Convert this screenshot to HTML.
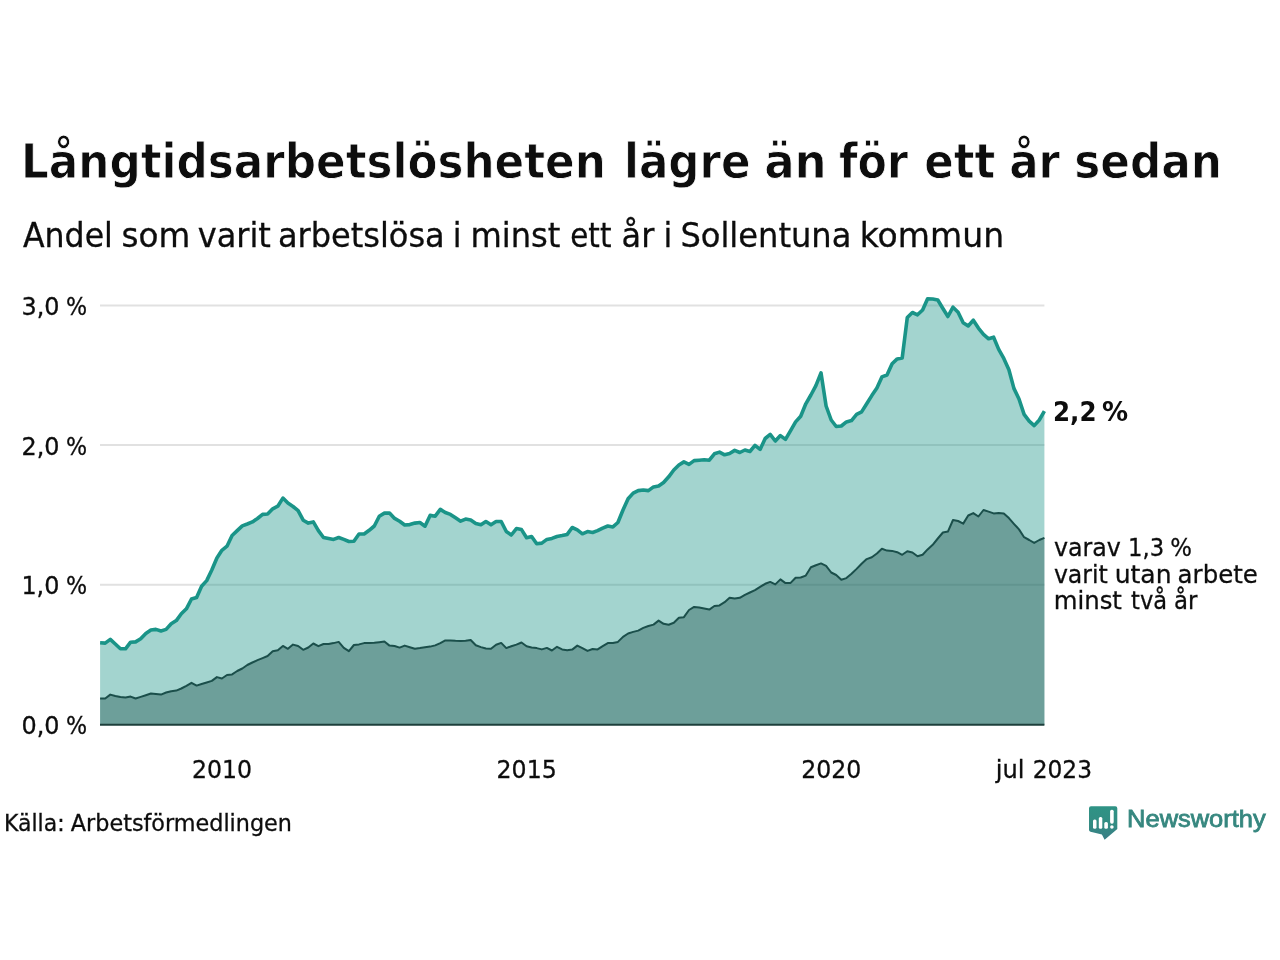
<!DOCTYPE html>
<html lang="sv">
<head>
<meta charset="utf-8">
<title>Långtidsarbetslösheten lägre än för ett år sedan</title>
<style>
html,body{margin:0;padding:0;background:#fff;}
body{width:1280px;height:960px;overflow:hidden;}
svg{display:block;}
text{font-family:"DejaVu Sans Condensed","DejaVu Sans","Liberation Sans",sans-serif;fill:#0d0d0d;stroke:#0d0d0d;stroke-width:0.28px;}
.t{font-weight:bold;font-size:48.5px;stroke:#fff;stroke-width:0.8px;paint-order:fill stroke;}
.s{font-size:33.5px;}
.ax{font-size:25.5px;}
.an{font-family:"DejaVu Sans","Liberation Sans",sans-serif;font-size:24px;}
.anb{font-size:27px;font-weight:bold;stroke-width:0;}
.src{font-size:23px;}
.logo{font-family:"Liberation Sans","DejaVu Sans",sans-serif;font-size:24px;fill:#36877f;stroke:#36877f;stroke-width:0.8px;}
</style>
</head>
<body>
<svg width="1280" height="960" viewBox="0 0 1280 960">
<defs>
<linearGradient id="lg" x1="0" y1="0" x2="0" y2="1"><stop offset="0" stop-color="#2f9385"/><stop offset="0.55" stop-color="#338c83"/><stop offset="1" stop-color="#3a7d86"/></linearGradient>
</defs>
<rect width="1280" height="960" fill="#ffffff"/>
<text class="t" y="177.8"><tspan x="21.0" textLength="584.8" lengthAdjust="spacingAndGlyphs">Långtidsarbetslösheten</tspan> <tspan x="624.0" textLength="126.5" lengthAdjust="spacingAndGlyphs">lägre</tspan> <tspan x="764.2" textLength="62.4" lengthAdjust="spacingAndGlyphs">än</tspan> <tspan x="839.0" textLength="69.0" lengthAdjust="spacingAndGlyphs">för</tspan> <tspan x="924.3" textLength="71.1" lengthAdjust="spacingAndGlyphs">ett</tspan> <tspan x="1009.3" textLength="50.7" lengthAdjust="spacingAndGlyphs">år</tspan> <tspan x="1074.2" textLength="147.8" lengthAdjust="spacingAndGlyphs">sedan</tspan></text>
<text class="s" y="247.2"><tspan x="23.0" textLength="89.9" lengthAdjust="spacingAndGlyphs">Andel</tspan> <tspan x="121.4" textLength="68.8" lengthAdjust="spacingAndGlyphs">som</tspan> <tspan x="197.7" textLength="73.2" lengthAdjust="spacingAndGlyphs">varit</tspan> <tspan x="277.9" textLength="166.8" lengthAdjust="spacingAndGlyphs">arbetslösa</tspan> <tspan x="452.8" textLength="8.8" lengthAdjust="spacingAndGlyphs">i</tspan> <tspan x="470.4" textLength="90.0" lengthAdjust="spacingAndGlyphs">minst</tspan> <tspan x="570.3" textLength="41.1" lengthAdjust="spacingAndGlyphs">ett</tspan> <tspan x="621.6" textLength="32.7" lengthAdjust="spacingAndGlyphs">år</tspan> <tspan x="663.6" textLength="8.8" lengthAdjust="spacingAndGlyphs">i</tspan> <tspan x="680.4" textLength="171.0" lengthAdjust="spacingAndGlyphs">Sollentuna</tspan> <tspan x="859.8" textLength="144.3" lengthAdjust="spacingAndGlyphs">kommun</tspan></text>
<g stroke="#e1e1e1" stroke-width="2">
<line x1="100" x2="1044.4" y1="305.4" y2="305.4"/>
<line x1="100" x2="1044.4" y1="445.1" y2="445.1"/>
<line x1="100" x2="1044.4" y1="584.8" y2="584.8"/>
</g>
<path d="M100.1,642.8 L105.2,643.1 L110.3,639.4 L115.3,644.0 L120.4,648.8 L125.5,648.8 L130.6,642.2 L135.6,641.9 L140.7,638.8 L145.8,633.5 L150.9,630.0 L155.9,629.4 L161.0,631.0 L166.1,629.4 L171.2,623.8 L176.3,620.6 L181.3,613.8 L186.4,608.8 L191.5,599.0 L196.6,597.5 L201.6,586.2 L206.7,580.6 L211.8,570.0 L216.9,558.0 L221.9,550.3 L227.0,546.2 L232.1,535.5 L237.2,530.6 L242.3,525.9 L247.3,524.0 L252.4,521.9 L257.5,518.5 L262.6,514.4 L267.6,514.0 L272.7,508.8 L277.8,506.2 L282.9,498.1 L287.9,503.1 L293.0,506.5 L298.1,510.6 L303.2,520.2 L308.3,523.1 L313.3,521.9 L318.4,530.6 L323.5,537.5 L328.6,538.5 L333.6,539.4 L338.7,537.5 L343.8,539.4 L348.9,541.5 L353.9,541.2 L359.0,534.0 L364.1,534.0 L369.2,530.3 L374.3,526.0 L379.3,516.2 L384.4,513.1 L389.5,513.1 L394.6,518.4 L399.6,521.2 L404.7,525.0 L409.8,524.6 L414.9,523.1 L419.9,522.5 L425.0,526.2 L430.1,515.4 L435.2,516.2 L440.3,509.4 L445.3,512.5 L450.4,514.4 L455.5,517.8 L460.6,521.2 L465.6,519.1 L470.7,520.0 L475.8,523.5 L480.9,524.8 L485.9,521.5 L491.0,524.8 L496.1,521.5 L501.2,521.5 L506.3,531.5 L511.3,535.0 L516.4,528.6 L521.5,529.6 L526.6,537.8 L531.6,536.5 L536.7,543.8 L541.8,543.1 L546.9,539.4 L551.9,538.4 L557.0,536.5 L562.1,535.6 L567.2,534.4 L572.2,527.5 L577.3,529.8 L582.4,533.8 L587.5,531.6 L592.6,532.5 L597.6,530.6 L602.7,528.1 L607.8,526.0 L612.9,526.9 L617.9,522.5 L623.0,510.0 L628.1,498.8 L633.2,493.1 L638.2,490.6 L643.3,490.0 L648.4,490.6 L653.5,486.9 L658.6,486.0 L663.6,482.5 L668.7,476.8 L673.8,470.0 L678.9,465.0 L683.9,461.9 L689.0,464.4 L694.1,460.6 L699.2,460.2 L704.2,459.8 L709.3,460.2 L714.4,453.8 L719.5,452.1 L724.6,454.8 L729.6,453.5 L734.7,450.4 L739.8,452.5 L744.9,450.0 L749.9,451.5 L755.0,445.4 L760.1,449.4 L765.2,438.5 L770.2,434.4 L775.3,441.0 L780.4,435.6 L785.5,439.4 L790.6,430.6 L795.6,421.9 L800.7,416.2 L805.8,403.8 L810.9,395.0 L815.9,385.6 L821.0,372.8 L826.1,406.0 L831.2,420.0 L836.2,426.5 L841.3,426.0 L846.4,421.9 L851.5,420.6 L856.6,414.4 L861.6,411.9 L866.7,403.8 L871.8,395.6 L876.9,388.1 L881.9,376.9 L887.0,375.0 L892.1,363.7 L897.2,358.9 L902.2,358.0 L907.3,317.5 L912.4,312.5 L917.5,314.8 L922.6,310.0 L927.6,298.8 L932.7,299.0 L937.8,300.0 L942.9,308.5 L947.9,316.5 L953.0,307.2 L958.1,312.2 L963.2,322.8 L968.2,326.0 L973.3,320.2 L978.4,328.1 L983.5,334.4 L988.6,338.8 L993.6,337.2 L998.7,349.4 L1003.8,358.4 L1008.9,369.7 L1013.9,388.4 L1019.0,399.0 L1024.1,414.4 L1029.2,421.2 L1034.2,425.6 L1039.3,420.0 L1044.4,411.2 L1044.4,724.7 L100.1,724.7 Z" fill="#1a9488" fill-opacity="0.4"/>
<path d="M100.1,698.5 L105.2,698.5 L110.3,694.6 L115.3,696.0 L120.4,697.1 L125.5,697.5 L130.6,696.6 L135.6,698.5 L140.7,696.9 L145.8,695.2 L150.9,693.5 L155.9,694.1 L161.0,694.6 L166.1,692.5 L171.2,691.2 L176.3,690.6 L181.3,688.5 L186.4,685.9 L191.5,682.8 L196.6,685.6 L201.6,684.0 L206.7,682.5 L211.8,680.9 L216.9,677.1 L221.9,678.5 L227.0,675.0 L232.1,674.4 L237.2,671.0 L242.3,668.5 L247.3,665.0 L252.4,662.5 L257.5,660.2 L262.6,658.1 L267.6,656.0 L272.7,651.2 L277.8,650.2 L282.9,645.9 L287.9,648.8 L293.0,644.6 L298.1,646.0 L303.2,649.8 L308.3,647.5 L313.3,643.5 L318.4,646.2 L323.5,644.0 L328.6,644.1 L333.6,643.1 L338.7,641.9 L343.8,647.8 L348.9,651.2 L353.9,645.0 L359.0,644.4 L364.1,643.1 L369.2,642.9 L374.3,642.8 L379.3,642.2 L384.4,641.5 L389.5,645.6 L394.6,646.0 L399.6,647.6 L404.7,645.6 L409.8,647.2 L414.9,648.8 L419.9,648.1 L425.0,647.2 L430.1,646.6 L435.2,645.4 L440.3,643.1 L445.3,640.4 L450.4,640.4 L455.5,640.8 L460.6,640.9 L465.6,640.8 L470.7,640.0 L475.8,645.2 L480.9,647.1 L485.9,648.5 L491.0,648.8 L496.1,644.8 L501.2,642.9 L506.3,648.1 L511.3,646.2 L516.4,644.6 L521.5,642.5 L526.6,646.2 L531.6,647.5 L536.7,648.1 L541.8,649.4 L546.9,647.9 L551.9,650.5 L557.0,646.8 L562.1,649.4 L567.2,650.2 L572.2,649.6 L577.3,645.6 L582.4,648.1 L587.5,650.9 L592.6,649.0 L597.6,649.4 L602.7,646.2 L607.8,643.1 L612.9,642.9 L617.9,641.9 L623.0,636.9 L628.1,633.5 L633.2,631.9 L638.2,630.6 L643.3,627.9 L648.4,626.0 L653.5,624.6 L658.6,620.6 L663.6,623.8 L668.7,624.8 L673.8,622.8 L678.9,617.8 L683.9,617.2 L689.0,610.0 L694.1,606.9 L699.2,607.6 L704.2,608.6 L709.3,609.6 L714.4,606.0 L719.5,605.4 L724.6,602.2 L729.6,597.8 L734.7,598.5 L739.8,597.8 L744.9,594.8 L749.9,592.5 L755.0,590.2 L760.1,586.9 L765.2,583.8 L770.2,581.9 L775.3,584.4 L780.4,579.4 L785.5,583.1 L790.6,582.9 L795.6,577.8 L800.7,577.5 L805.8,575.6 L810.9,567.2 L815.9,565.2 L821.0,563.4 L826.1,565.9 L831.2,572.5 L836.2,575.0 L841.3,579.8 L846.4,578.1 L851.5,573.8 L856.6,568.9 L861.6,563.8 L866.7,559.1 L871.8,557.2 L876.9,553.5 L881.9,548.8 L887.0,550.6 L892.1,550.9 L897.2,552.2 L902.2,554.8 L907.3,551.2 L912.4,552.5 L917.5,556.2 L922.6,554.8 L927.6,549.4 L932.7,544.8 L937.8,538.5 L942.9,532.5 L947.9,531.6 L953.0,520.0 L958.1,521.0 L963.2,523.6 L968.2,515.5 L973.3,513.1 L978.4,516.5 L983.5,510.0 L988.6,511.6 L993.6,513.4 L998.7,512.9 L1003.8,513.4 L1008.9,518.1 L1013.9,523.8 L1019.0,529.4 L1024.1,537.2 L1029.2,540.0 L1034.2,542.9 L1039.3,540.0 L1044.4,537.8 L1044.4,724.7 L100.1,724.7 Z" fill="#1b4f4b" fill-opacity="0.4"/>
<path d="M100.1,698.5 L105.2,698.5 L110.3,694.6 L115.3,696.0 L120.4,697.1 L125.5,697.5 L130.6,696.6 L135.6,698.5 L140.7,696.9 L145.8,695.2 L150.9,693.5 L155.9,694.1 L161.0,694.6 L166.1,692.5 L171.2,691.2 L176.3,690.6 L181.3,688.5 L186.4,685.9 L191.5,682.8 L196.6,685.6 L201.6,684.0 L206.7,682.5 L211.8,680.9 L216.9,677.1 L221.9,678.5 L227.0,675.0 L232.1,674.4 L237.2,671.0 L242.3,668.5 L247.3,665.0 L252.4,662.5 L257.5,660.2 L262.6,658.1 L267.6,656.0 L272.7,651.2 L277.8,650.2 L282.9,645.9 L287.9,648.8 L293.0,644.6 L298.1,646.0 L303.2,649.8 L308.3,647.5 L313.3,643.5 L318.4,646.2 L323.5,644.0 L328.6,644.1 L333.6,643.1 L338.7,641.9 L343.8,647.8 L348.9,651.2 L353.9,645.0 L359.0,644.4 L364.1,643.1 L369.2,642.9 L374.3,642.8 L379.3,642.2 L384.4,641.5 L389.5,645.6 L394.6,646.0 L399.6,647.6 L404.7,645.6 L409.8,647.2 L414.9,648.8 L419.9,648.1 L425.0,647.2 L430.1,646.6 L435.2,645.4 L440.3,643.1 L445.3,640.4 L450.4,640.4 L455.5,640.8 L460.6,640.9 L465.6,640.8 L470.7,640.0 L475.8,645.2 L480.9,647.1 L485.9,648.5 L491.0,648.8 L496.1,644.8 L501.2,642.9 L506.3,648.1 L511.3,646.2 L516.4,644.6 L521.5,642.5 L526.6,646.2 L531.6,647.5 L536.7,648.1 L541.8,649.4 L546.9,647.9 L551.9,650.5 L557.0,646.8 L562.1,649.4 L567.2,650.2 L572.2,649.6 L577.3,645.6 L582.4,648.1 L587.5,650.9 L592.6,649.0 L597.6,649.4 L602.7,646.2 L607.8,643.1 L612.9,642.9 L617.9,641.9 L623.0,636.9 L628.1,633.5 L633.2,631.9 L638.2,630.6 L643.3,627.9 L648.4,626.0 L653.5,624.6 L658.6,620.6 L663.6,623.8 L668.7,624.8 L673.8,622.8 L678.9,617.8 L683.9,617.2 L689.0,610.0 L694.1,606.9 L699.2,607.6 L704.2,608.6 L709.3,609.6 L714.4,606.0 L719.5,605.4 L724.6,602.2 L729.6,597.8 L734.7,598.5 L739.8,597.8 L744.9,594.8 L749.9,592.5 L755.0,590.2 L760.1,586.9 L765.2,583.8 L770.2,581.9 L775.3,584.4 L780.4,579.4 L785.5,583.1 L790.6,582.9 L795.6,577.8 L800.7,577.5 L805.8,575.6 L810.9,567.2 L815.9,565.2 L821.0,563.4 L826.1,565.9 L831.2,572.5 L836.2,575.0 L841.3,579.8 L846.4,578.1 L851.5,573.8 L856.6,568.9 L861.6,563.8 L866.7,559.1 L871.8,557.2 L876.9,553.5 L881.9,548.8 L887.0,550.6 L892.1,550.9 L897.2,552.2 L902.2,554.8 L907.3,551.2 L912.4,552.5 L917.5,556.2 L922.6,554.8 L927.6,549.4 L932.7,544.8 L937.8,538.5 L942.9,532.5 L947.9,531.6 L953.0,520.0 L958.1,521.0 L963.2,523.6 L968.2,515.5 L973.3,513.1 L978.4,516.5 L983.5,510.0 L988.6,511.6 L993.6,513.4 L998.7,512.9 L1003.8,513.4 L1008.9,518.1 L1013.9,523.8 L1019.0,529.4 L1024.1,537.2 L1029.2,540.0 L1034.2,542.9 L1039.3,540.0 L1044.4,537.8" fill="none" stroke="#1b4f4b" stroke-width="2" stroke-linejoin="round" stroke-linecap="butt"/>
<path d="M100.1,642.8 L105.2,643.1 L110.3,639.4 L115.3,644.0 L120.4,648.8 L125.5,648.8 L130.6,642.2 L135.6,641.9 L140.7,638.8 L145.8,633.5 L150.9,630.0 L155.9,629.4 L161.0,631.0 L166.1,629.4 L171.2,623.8 L176.3,620.6 L181.3,613.8 L186.4,608.8 L191.5,599.0 L196.6,597.5 L201.6,586.2 L206.7,580.6 L211.8,570.0 L216.9,558.0 L221.9,550.3 L227.0,546.2 L232.1,535.5 L237.2,530.6 L242.3,525.9 L247.3,524.0 L252.4,521.9 L257.5,518.5 L262.6,514.4 L267.6,514.0 L272.7,508.8 L277.8,506.2 L282.9,498.1 L287.9,503.1 L293.0,506.5 L298.1,510.6 L303.2,520.2 L308.3,523.1 L313.3,521.9 L318.4,530.6 L323.5,537.5 L328.6,538.5 L333.6,539.4 L338.7,537.5 L343.8,539.4 L348.9,541.5 L353.9,541.2 L359.0,534.0 L364.1,534.0 L369.2,530.3 L374.3,526.0 L379.3,516.2 L384.4,513.1 L389.5,513.1 L394.6,518.4 L399.6,521.2 L404.7,525.0 L409.8,524.6 L414.9,523.1 L419.9,522.5 L425.0,526.2 L430.1,515.4 L435.2,516.2 L440.3,509.4 L445.3,512.5 L450.4,514.4 L455.5,517.8 L460.6,521.2 L465.6,519.1 L470.7,520.0 L475.8,523.5 L480.9,524.8 L485.9,521.5 L491.0,524.8 L496.1,521.5 L501.2,521.5 L506.3,531.5 L511.3,535.0 L516.4,528.6 L521.5,529.6 L526.6,537.8 L531.6,536.5 L536.7,543.8 L541.8,543.1 L546.9,539.4 L551.9,538.4 L557.0,536.5 L562.1,535.6 L567.2,534.4 L572.2,527.5 L577.3,529.8 L582.4,533.8 L587.5,531.6 L592.6,532.5 L597.6,530.6 L602.7,528.1 L607.8,526.0 L612.9,526.9 L617.9,522.5 L623.0,510.0 L628.1,498.8 L633.2,493.1 L638.2,490.6 L643.3,490.0 L648.4,490.6 L653.5,486.9 L658.6,486.0 L663.6,482.5 L668.7,476.8 L673.8,470.0 L678.9,465.0 L683.9,461.9 L689.0,464.4 L694.1,460.6 L699.2,460.2 L704.2,459.8 L709.3,460.2 L714.4,453.8 L719.5,452.1 L724.6,454.8 L729.6,453.5 L734.7,450.4 L739.8,452.5 L744.9,450.0 L749.9,451.5 L755.0,445.4 L760.1,449.4 L765.2,438.5 L770.2,434.4 L775.3,441.0 L780.4,435.6 L785.5,439.4 L790.6,430.6 L795.6,421.9 L800.7,416.2 L805.8,403.8 L810.9,395.0 L815.9,385.6 L821.0,372.8 L826.1,406.0 L831.2,420.0 L836.2,426.5 L841.3,426.0 L846.4,421.9 L851.5,420.6 L856.6,414.4 L861.6,411.9 L866.7,403.8 L871.8,395.6 L876.9,388.1 L881.9,376.9 L887.0,375.0 L892.1,363.7 L897.2,358.9 L902.2,358.0 L907.3,317.5 L912.4,312.5 L917.5,314.8 L922.6,310.0 L927.6,298.8 L932.7,299.0 L937.8,300.0 L942.9,308.5 L947.9,316.5 L953.0,307.2 L958.1,312.2 L963.2,322.8 L968.2,326.0 L973.3,320.2 L978.4,328.1 L983.5,334.4 L988.6,338.8 L993.6,337.2 L998.7,349.4 L1003.8,358.4 L1008.9,369.7 L1013.9,388.4 L1019.0,399.0 L1024.1,414.4 L1029.2,421.2 L1034.2,425.6 L1039.3,420.0 L1044.4,411.2" fill="none" stroke="#1a9488" stroke-width="3.6" stroke-linejoin="round" stroke-linecap="butt"/>
<line x1="100" x2="1044.4" y1="724.7" y2="724.7" stroke="#1d3f3b" stroke-width="2"/>
<text class="ax" y="315.0"><tspan x="21.5" textLength="38.0" lengthAdjust="spacingAndGlyphs">3,0</tspan> <tspan x="65.9" textLength="21.1" lengthAdjust="spacingAndGlyphs">%</tspan></text>
<text class="ax" y="454.7"><tspan x="21.5" textLength="38.0" lengthAdjust="spacingAndGlyphs">2,0</tspan> <tspan x="65.9" textLength="21.1" lengthAdjust="spacingAndGlyphs">%</tspan></text>
<text class="ax" y="594.4"><tspan x="21.4" textLength="38.0" lengthAdjust="spacingAndGlyphs">1,0</tspan> <tspan x="65.9" textLength="21.1" lengthAdjust="spacingAndGlyphs">%</tspan></text>
<text class="ax" y="734.2"><tspan x="21.5" textLength="38.0" lengthAdjust="spacingAndGlyphs">0,0</tspan> <tspan x="65.9" textLength="21.1" lengthAdjust="spacingAndGlyphs">%</tspan></text>
<text class="ax" y="777.7"><tspan x="191.9" textLength="60.1" lengthAdjust="spacingAndGlyphs">2010</tspan></text>
<text class="ax" y="777.7"><tspan x="496.6" textLength="60.1" lengthAdjust="spacingAndGlyphs">2015</tspan></text>
<text class="ax" y="777.7"><tspan x="801.3" textLength="60.1" lengthAdjust="spacingAndGlyphs">2020</tspan></text>
<text class="ax" y="777.7"><tspan x="995.8" textLength="28.7" lengthAdjust="spacingAndGlyphs">jul</tspan> <tspan x="1032.7" textLength="59.3" lengthAdjust="spacingAndGlyphs">2023</tspan></text>
<text class="anb" y="420.6"><tspan x="1053.0" textLength="43.5" lengthAdjust="spacingAndGlyphs">2,2</tspan> <tspan x="1102.0" textLength="26.1" lengthAdjust="spacingAndGlyphs">%</tspan></text>
<text class="an" y="555.8"><tspan x="1053.9" textLength="67.0" lengthAdjust="spacingAndGlyphs">varav</tspan> <tspan x="1128.0" textLength="36.1" lengthAdjust="spacingAndGlyphs">1,3</tspan> <tspan x="1170.2" textLength="21.7" lengthAdjust="spacingAndGlyphs">%</tspan></text>
<text class="an" y="582.6"><tspan x="1053.9" textLength="54.0" lengthAdjust="spacingAndGlyphs">varit</tspan> <tspan x="1114.7" textLength="56.9" lengthAdjust="spacingAndGlyphs">utan</tspan> <tspan x="1177.6" textLength="80.3" lengthAdjust="spacingAndGlyphs">arbete</tspan></text>
<text class="an" y="609.0"><tspan x="1053.7" textLength="68.2" lengthAdjust="spacingAndGlyphs">minst</tspan> <tspan x="1131.1" textLength="36.0" lengthAdjust="spacingAndGlyphs">två</tspan> <tspan x="1174.0" textLength="23.4" lengthAdjust="spacingAndGlyphs">år</tspan></text>
<text class="src" y="830.75"><tspan x="4.1" textLength="60.5" lengthAdjust="spacingAndGlyphs">Källa:</tspan> <tspan x="70.8" textLength="221.2" lengthAdjust="spacingAndGlyphs">Arbetsförmedlingen</tspan></text>
<g>
<path d="M1091,806.2 H1115.3 a2,2 0 0 1 2,2 V829 L1104.6,839.7 L1101.9,834.5 L1090.5,831.7 a2,2 0 0 1 -1.5,-2 V808.2 a2,2 0 0 1 2,-2 Z" fill="url(#lg)"/>
<g fill="#fff">
<rect x="1093" y="819.5" width="3.5" height="9.2" rx="1.5"/>
<rect x="1098.8" y="817" width="3.5" height="11.7" rx="1.5"/>
<rect x="1104.3" y="822" width="3.6" height="6.7" rx="1.5"/>
<rect x="1110.1" y="809.7" width="3.6" height="14" rx="1.6"/>
<circle cx="1111.9" cy="827" r="1.8"/>
</g>
<text class="logo" y="826.7"><tspan x="1127.1" textLength="138.6" lengthAdjust="spacingAndGlyphs">Newsworthy</tspan></text>
</g>
</svg>
</body>
</html>
